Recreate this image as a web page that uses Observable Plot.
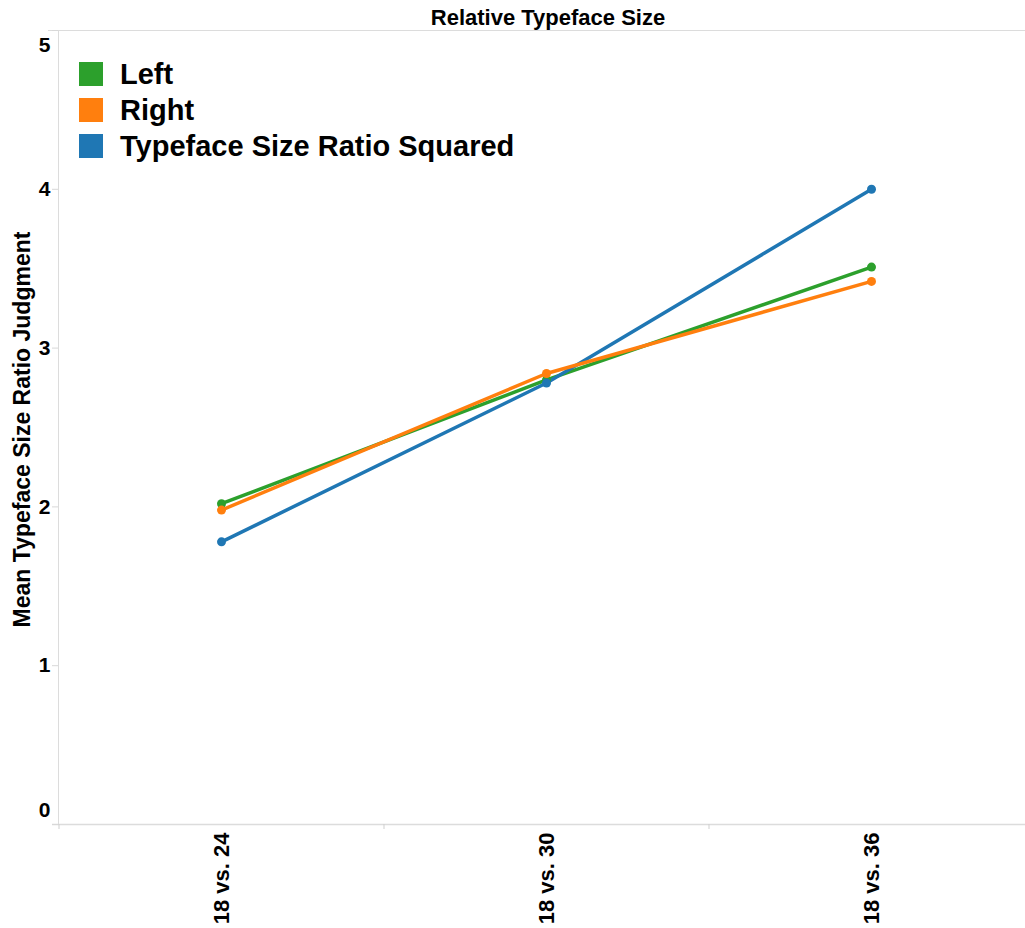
<!DOCTYPE html>
<html>
<head>
<meta charset="utf-8">
<script src="https://cdn.jsdelivr.net/npm/d3@7"></script>
<script src="https://cdn.jsdelivr.net/npm/@observablehq/plot@0.6"></script>
<style>
  body { margin: 0; background: #fff; font-family: "Liberation Sans", Arial, sans-serif; }
  #wrap { position: relative; width: 1025px; height: 928px; }
  #legend { position: absolute; left: 79px; top: 56px; }
  .row { display: flex; align-items: center; height: 36px; font-weight: bold; font-size: 29px; color: #000; }
  .sw { width: 24px; height: 24px; margin-right: 17px; }
</style>
</head>
<body>
<div id="wrap"></div>
<script>
const categories = ["18 vs. 24", "18 vs. 30", "18 vs. 36"];
const seriesNames = ["Left", "Right", "Typeface Size Ratio Squared"];
const seriesColors = ["#2ca02c", "#ff7f0e", "#1f77b4"];
const leftValues = [2.02, 2.80, 3.51];
const rightValues = [1.98, 2.84, 3.42];
const squaredValues = [1.78, 2.78, 4.00];
const yTicks = [0, 1, 2, 3, 4, 5];

const drawOrder = [
  {name: "Left", values: leftValues},
  {name: "Typeface Size Ratio Squared", values: squaredValues},
  {name: "Right", values: rightValues}
];
const data = drawOrder.flatMap(s => s.values.map((v, i) => ({series: s.name, cat: categories[i], value: v})));

const font = "Liberation Sans, Arial, sans-serif";
const chart = Plot.plot({
  width: 1025,
  height: 928,
  marginLeft: 58,
  marginRight: 0,
  marginTop: 30,
  marginBottom: 104,
  style: {fontFamily: font, background: "#fff"},
  x: {type: "point", domain: categories, range: [58, 1033], padding: 0.5, label: null},
  y: {domain: [0, 5], label: null},
  color: {domain: seriesNames, range: seriesColors},
  marks: [
    Plot.ruleY([5], {stroke: "#dcdcdc", strokeWidth: 1, insetLeft: -10}),
    Plot.frame({anchor: "left", stroke: "#dcdcdc"}),
    Plot.ruleY([0], {stroke: "#dcdcdc", strokeWidth: 1.5, insetLeft: -6}),
    Plot.axisY({ticks: yTicks, tickSize: 6, stroke: "#d8d8d8", tickFormat: () => "", label: null}),
    Plot.axisX({tickSize: 5, dx: -162.5, stroke: "#cfcfcf", strokeWidth: 1, tickFormat: () => "", label: null}),
    Plot.axisX({tickRotate: -90, tickSize: 0, tickPadding: 8, fontSize: 22, fontWeight: "bold", fill: "#000", label: null}),
    Plot.axisY({ticks: yTicks.filter(t => t > 0 && t < 5), tickFormat: d => String(d), tickSize: 0, tickPadding: 8, fontSize: 21, fontWeight: "bold", fill: "#000", label: null}),
    Plot.text([0], {y: d => d, text: d => String(d), frameAnchor: "left", textAnchor: "end", dx: -8, dy: -14, fontSize: 21, fontWeight: "bold", fill: "#000"}),
    Plot.text([5], {y: d => d, text: d => String(d), frameAnchor: "left", textAnchor: "end", dx: -8, dy: 15, fontSize: 21, fontWeight: "bold", fill: "#000"}),
    Plot.text(["Mean Typeface Size Ratio Judgment"], {frameAnchor: "left", textAnchor: "middle", rotate: -90, dx: -36, dy: 2, fontSize: 23, fontWeight: "bold", fill: "#000"}),
    Plot.text(["Relative Typeface Size"], {frameAnchor: "top", textAnchor: "middle", dx: 6, dy: -21, fontSize: 22, fontWeight: "bold", fill: "#000"}),
    Plot.line(data, {x: "cat", y: "value", z: "series", stroke: "series", strokeWidth: 3.5}),
    Plot.dot(data, {x: "cat", y: "value", fill: "series", r: 4.5})
  ]
});

const wrap = document.getElementById("wrap");
wrap.appendChild(chart);
const legend = document.createElement("div");
legend.id = "legend";
seriesNames.forEach((n, i) => {
  const row = document.createElement("div");
  row.className = "row";
  const sw = document.createElement("div");
  sw.className = "sw";
  sw.style.background = seriesColors[i];
  const t = document.createElement("span");
  t.textContent = n;
  row.appendChild(sw);
  row.appendChild(t);
  legend.appendChild(row);
});
wrap.appendChild(legend);
</script>
</body>
</html>
